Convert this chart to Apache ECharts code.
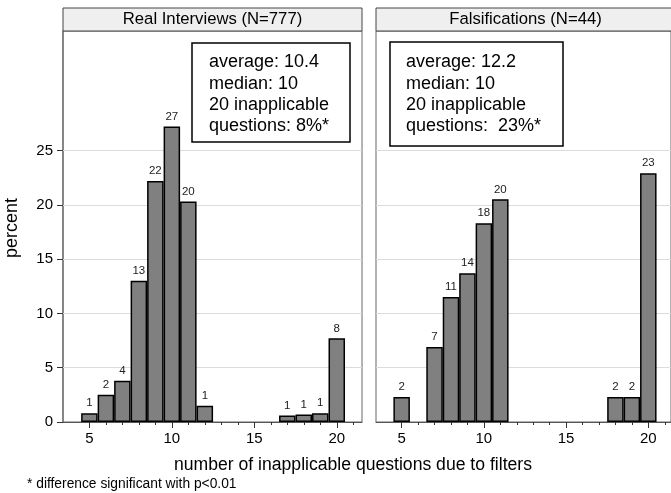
<!DOCTYPE html>
<html>
<head>
<meta charset="utf-8">
<script src="https://cdn.jsdelivr.net/npm/echarts@6/dist/echarts.min.js"></script>
<style>
html,body{margin:0;padding:0;background:#fff;}
#chart{width:671px;height:493px;}
</style>
</head>
<body>
<div id="chart"></div>
<script>
// ---- data ----
const realX = [5, 6, 7, 8, 9, 10, 11, 12, 17, 18, 19, 20];
const realPct = [0.8, 2.5, 3.8, 13.0, 22.2, 27.2, 20.3, 1.5, 0.6, 0.7, 0.8, 7.7];
const realLabels = ['1', '2', '4', '13', '22', '27', '20', '1', '1', '1', '1', '8'];

const falsX = [5, 7, 8, 9, 10, 11, 18, 19, 20];
const falsPct = [2.3, 6.9, 11.5, 13.7, 18.3, 20.5, 2.3, 2.3, 22.9];
const falsLabels = ['2', '7', '11', '14', '18', '20', '2', '2', '23'];

const xMajorTicks = [5, 10, 15, 20];
const xMinorTicks = [5, 6, 7, 8, 9, 10, 11, 12, 13, 14, 15, 16, 17, 18, 19, 20, 21];
const yTicks = [0, 5, 10, 15, 20, 25];
const gridVals = [5, 10, 15, 20, 25];

const panelTitles = ['Real Interviews (N=777)', 'Falsifications (N=44)'];
const realStats = ['average: 10.4', 'median: 10', '20 inapplicable', 'questions: 8%*'];
const falsStats = ['average: 12.2', 'median: 10', '20 inapplicable', 'questions:  23%*'];
const yTitle = 'percent';
const xTitle = 'number of inapplicable questions due to filters';
const footnote = '* difference significant with p<0.01';

// ---- chart ----
const FONT = '"Liberation Sans", Arial, sans-serif';
const chart = echarts.init(document.getElementById('chart'), null, {renderer: 'canvas'});

const grids = [
  {left: 63, top: 31, width: 299, height: 391, min: 3.4, max: 21.53},
  {left: 376, top: 31, width: 295, height: 391, min: 3.44, max: 21.38}
];

function xAxesFor(gi, g) {
  return [
    {
      type: 'value', gridIndex: gi, min: g.min, max: g.max, position: 'bottom',
      axisLine: {show: true, onZero: false, lineStyle: {color: '#555', width: 1}},
      axisTick: {show: true, customValues: xMajorTicks, length: 6, lineStyle: {color: '#333', width: 1}},
      axisLabel: {show: true, customValues: xMajorTicks, fontSize: 15, color: '#000', fontFamily: FONT, margin: 9},
      splitLine: {show: false}
    },
    {
      type: 'value', gridIndex: gi, min: g.min, max: g.max, position: 'bottom',
      axisLine: {show: false},
      axisTick: {show: true, customValues: xMinorTicks, length: 3, lineStyle: {color: '#333', width: 1}},
      axisLabel: {show: false},
      splitLine: {show: false}
    }
  ];
}

function barSeries(xi, yi, xs, ys, labels) {
  return {
    type: 'bar',
    xAxisIndex: xi, yAxisIndex: yi,
    data: xs.map((x, i) => [x, ys[i]]),
    barWidth: 16.5,
    z: 2,
    itemStyle: {color: '#808080', borderColor: '#000', borderWidth: 1.5},
    label: {
      show: true, position: 'top', distance: 4,
      fontSize: 11.5, color: '#222', fontFamily: FONT,
      formatter: p => labels[p.dataIndex]
    },
    markLine: {
      silent: true, symbol: 'none', z: 1, animation: false,
      label: {show: false},
      lineStyle: {color: '#dcdcdc', type: 'solid', width: 1.2},
      data: gridVals.map(v => ({yAxis: v}))
    },
    animation: false
  };
}

const graphics = [];
// panel header strips
grids.forEach((g, i) => {
  graphics.push({
    type: 'rect', z: 10,
    shape: {x: g.left, y: 8, width: (i === 0 ? g.width : 299), height: 23},
    style: {fill: '#efefef', stroke: '#444', lineWidth: 1}
  });
  graphics.push({
    type: 'text', z: 11,
    x: g.left + 149.5, y: 19.5,
    style: {text: panelTitles[i], font: '16.7px ' + FONT, fill: '#000', textAlign: 'center', textVerticalAlign: 'middle'}
  });
});
// stats boxes
const boxes = [
  {x: 192, y: 43, w: 158, h: 99, tx: 209, lines: realStats},
  {x: 390, y: 42, w: 173, h: 104, tx: 406, lines: falsStats}
];
boxes.forEach(b => {
  graphics.push({
    type: 'rect', z: 20,
    shape: {x: b.x, y: b.y, width: b.w, height: b.h},
    style: {fill: '#fff', stroke: '#000', lineWidth: 1.5}
  });
  b.lines.forEach((t, k) => {
    graphics.push({
      type: 'text', z: 21,
      x: b.tx, y: 62.5 + k * 21.3,
      style: {text: t, font: '18px ' + FONT, fill: '#000', textAlign: 'left', textVerticalAlign: 'middle'}
    });
  });
});
// axis titles and footnote
graphics.push({
  type: 'text', z: 11, x: 12, y: 228, rotation: Math.PI / 2,
  style: {text: yTitle, font: '18px ' + FONT, fill: '#000', textAlign: 'center', textVerticalAlign: 'middle'}
});
graphics.push({
  type: 'text', z: 11, x: 174, y: 465,
  style: {text: xTitle, font: '17.6px ' + FONT, fill: '#000', textAlign: 'left', textVerticalAlign: 'middle'}
});
graphics.push({
  type: 'text', z: 11, x: 27, y: 484,
  style: {text: footnote, font: '13.8px ' + FONT, fill: '#000', textAlign: 'left', textVerticalAlign: 'middle'}
});

const option = {
  backgroundColor: '#fff',
  animation: false,
  textStyle: {fontFamily: FONT},
  grid: grids.map(g => ({
    left: g.left, top: g.top, width: g.width, height: g.height,
    show: true, borderColor: '#666', borderWidth: 1, backgroundColor: '#fff', containLabel: false
  })),
  xAxis: [].concat(xAxesFor(0, grids[0]), xAxesFor(1, grids[1])),
  yAxis: [
    {
      type: 'value', gridIndex: 0, min: 0, max: 36,
      axisLine: {show: true, lineStyle: {color: '#777', width: 1.5}},
      axisTick: {show: true, customValues: yTicks, length: 6, lineStyle: {color: '#333'}},
      axisLabel: {show: true, customValues: yTicks, fontSize: 15, color: '#000', fontFamily: FONT, margin: 10},
      splitLine: {show: false}
    },
    {
      type: 'value', gridIndex: 1, min: 0, max: 36,
      axisLine: {show: false}, axisTick: {show: false}, axisLabel: {show: false},
      splitLine: {show: false}
    }
  ],
  series: [
    barSeries(0, 0, realX, realPct, realLabels),
    barSeries(2, 1, falsX, falsPct, falsLabels)
  ],
  graphic: {elements: graphics}
};
chart.setOption(option);
</script>
</body>
</html>
